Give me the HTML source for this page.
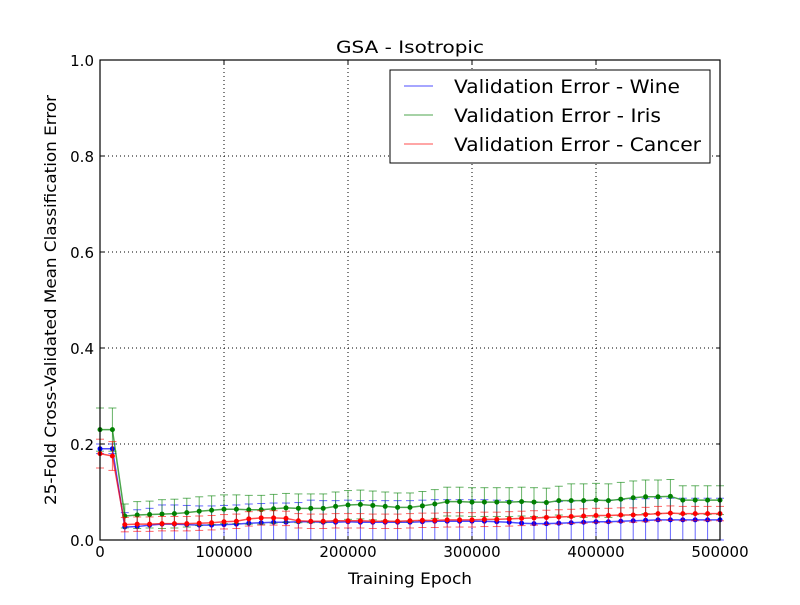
<!DOCTYPE html>
<html><head><meta charset="utf-8"><style>
body{margin:0;background:#fff}
svg text{font-family:"DejaVu Sans","Liberation Sans",sans-serif}
</style></head><body>
<svg id="chart" width="800" height="600" xmlns="http://www.w3.org/2000/svg">
<rect width="800" height="600" fill="#fff"/>
<g id="grid"></g>
<g id="series"></g>
<rect x="100" y="60" width="620" height="480" fill="none" stroke="#000" stroke-width="1.2"/>
<g id="ticks"></g>
<text x="410" y="53" font-size="17" text-anchor="middle" textLength="148" lengthAdjust="spacingAndGlyphs">GSA - Isotropic</text>
<text x="410" y="584" font-size="16" text-anchor="middle" textLength="124" lengthAdjust="spacingAndGlyphs">Training Epoch</text>
<text transform="translate(56,300) rotate(-90)" font-size="16" text-anchor="middle" textLength="410" lengthAdjust="spacingAndGlyphs">25-Fold Cross-Validated Mean Classification Error</text>
<g>
<rect x="390" y="70" width="320" height="93" fill="#fff" stroke="#000" stroke-width="1"/>
<g><line x1="404" y1="86" x2="433" y2="86" stroke="#0000ff" stroke-opacity="0.7"/><text x="454" y="93" font-size="19" textLength="226" lengthAdjust="spacingAndGlyphs">Validation Error - Wine</text></g>
<g><line x1="404" y1="115" x2="433" y2="115" stroke="#008000" stroke-opacity="0.7"/><text x="454" y="122" font-size="19" textLength="207" lengthAdjust="spacingAndGlyphs">Validation Error - Iris</text></g>
<g><line x1="404" y1="144" x2="433" y2="144" stroke="#ff0000" stroke-opacity="0.7"/><text x="454" y="151" font-size="19" textLength="247" lengthAdjust="spacingAndGlyphs">Validation Error - Cancer</text></g>
</g>
</svg>
<script>
const epochs = Array.from({length:51},(_,i)=>i*10000);
const wineVals = [0.19,0.19,0.027,0.028,0.031,0.033,0.033,0.032,0.031,0.031,0.032,0.033,0.035,0.036,0.037,0.037,0.038,0.038,0.037,0.037,0.038,0.037,0.037,0.037,0.037,0.037,0.038,0.039,0.039,0.039,0.039,0.039,0.038,0.037,0.035,0.034,0.034,0.035,0.036,0.037,0.038,0.038,0.039,0.04,0.041,0.042,0.042,0.042,0.042,0.042,0.042];
const wineErr = [0.01,0.01,0.03,0.035,0.035,0.04,0.04,0.04,0.04,0.04,0.04,0.04,0.04,0.04,0.04,0.04,0.04,0.045,0.045,0.045,0.045,0.045,0.045,0.045,0.045,0.045,0.045,0.045,0.045,0.045,0.045,0.045,0.045,0.045,0.045,0.045,0.045,0.045,0.045,0.045,0.045,0.045,0.045,0.045,0.045,0.045,0.045,0.045,0.045,0.045,0.045];
const irisVals = [0.23,0.23,0.05,0.052,0.053,0.054,0.055,0.057,0.06,0.062,0.064,0.064,0.063,0.063,0.065,0.067,0.066,0.066,0.066,0.07,0.073,0.074,0.072,0.07,0.068,0.068,0.071,0.075,0.08,0.08,0.079,0.079,0.079,0.079,0.08,0.079,0.078,0.082,0.082,0.082,0.083,0.082,0.085,0.088,0.09,0.09,0.091,0.083,0.083,0.083,0.083];
const irisErr = [0.045,0.045,0.025,0.028,0.028,0.03,0.03,0.03,0.03,0.03,0.03,0.03,0.03,0.03,0.03,0.03,0.03,0.03,0.03,0.03,0.03,0.03,0.03,0.03,0.03,0.03,0.03,0.03,0.03,0.03,0.03,0.03,0.03,0.03,0.03,0.03,0.03,0.03,0.035,0.035,0.035,0.035,0.035,0.035,0.035,0.035,0.035,0.03,0.03,0.03,0.03];
const cancerVals = [0.18,0.175,0.032,0.033,0.033,0.034,0.034,0.034,0.035,0.036,0.038,0.039,0.044,0.046,0.046,0.045,0.04,0.039,0.039,0.04,0.04,0.04,0.039,0.039,0.039,0.04,0.041,0.041,0.042,0.042,0.042,0.043,0.043,0.044,0.045,0.046,0.047,0.048,0.049,0.05,0.051,0.051,0.052,0.052,0.053,0.055,0.056,0.055,0.055,0.055,0.055];
const cancerErr = [0.03,0.03,0.015,0.015,0.015,0.015,0.015,0.015,0.015,0.015,0.015,0.015,0.015,0.015,0.015,0.015,0.015,0.015,0.015,0.015,0.015,0.015,0.015,0.015,0.015,0.015,0.015,0.015,0.015,0.015,0.015,0.015,0.015,0.015,0.015,0.015,0.015,0.015,0.015,0.015,0.015,0.015,0.015,0.015,0.015,0.015,0.015,0.015,0.015,0.015,0.015];
const xTicks = [0,100000,200000,300000,400000,500000];
const yTicks = [0,0.2,0.4,0.6,0.8,1.0];
const yTickLabels = ["0.0","0.2","0.4","0.6","0.8","1.0"];

const NS="http://www.w3.org/2000/svg";
const X=v=>100+v/500000*620, Y=v=>540-v*480;
function mk(tag,attrs,parent){const e=document.createElementNS(NS,tag);for(const k in attrs)e.setAttribute(k,attrs[k]);parent.appendChild(e);return e;}
const grid=document.getElementById('grid'),ticks=document.getElementById('ticks'),ser=document.getElementById('series');
xTicks.forEach(t=>{
  if(t>0&&t<500000){const g=mk('line',{x1:X(t),x2:X(t),y1:60,y2:540,stroke:'#000','stroke-dasharray':'1,3','stroke-width':1},grid);
  
  }
  mk('line',{x1:X(t),x2:X(t),y1:540,y2:536,stroke:'#000'},ticks);
  mk('line',{x1:X(t),x2:X(t),y1:60,y2:64,stroke:'#000'},ticks);
  const tx=mk('text',{x:X(t),y:557,'font-size':15,'text-anchor':'middle'},ticks);tx.textContent=t;
  
  
});
yTicks.forEach((t,i)=>{
  if(t>0&&t<1){const g=mk('line',{x1:100,x2:720,y1:Y(t),y2:Y(t),stroke:'#000','stroke-dasharray':'1,3','stroke-width':1},grid);
  
  }
  mk('line',{x1:100,x2:104,y1:Y(t),y2:Y(t),stroke:'#000'},ticks);
  mk('line',{x1:716,x2:720,y1:Y(t),y2:Y(t),stroke:'#000'},ticks);
  const tx=mk('text',{x:94,y:Y(t)+6,'font-size':15,'text-anchor':'end'},ticks);tx.textContent=yTickLabels[i];
  
  
});
function draw(vals,errs,color,name){
  const g=mk('g',{},ser);
  
  
  epochs.forEach((e,i)=>{
    const x=X(e),lo=Y(Math.max(0,vals[i]-errs[i])),hi=Y(vals[i]+errs[i]);
    mk('line',{x1:x,x2:x,y1:lo,y2:hi,stroke:color,'stroke-opacity':0.6},g);
    mk('line',{x1:x-4,x2:x+4,y1:lo,y2:lo,stroke:color,'stroke-opacity':0.6},g);
    mk('line',{x1:x-4,x2:x+4,y1:hi,y2:hi,stroke:color,'stroke-opacity':0.6},g);
  });
  const pts=epochs.map((e,i)=>X(e)+','+Y(vals[i])).join(' ');
  mk('polyline',{points:pts,fill:'none',stroke:color,'stroke-width':1.5,'stroke-opacity':0.7},g);
  epochs.forEach((e,i)=>{
    const c=mk('circle',{cx:X(e),cy:Y(vals[i]),r:2.5,fill:color},g);
    
    
  });
}
draw(wineVals,wineErr,'#0000ff','wine');
draw(irisVals,irisErr,'#008000','iris');
draw(cancerVals,cancerErr,'#ff0000','cancer');
</script>
</body></html>
